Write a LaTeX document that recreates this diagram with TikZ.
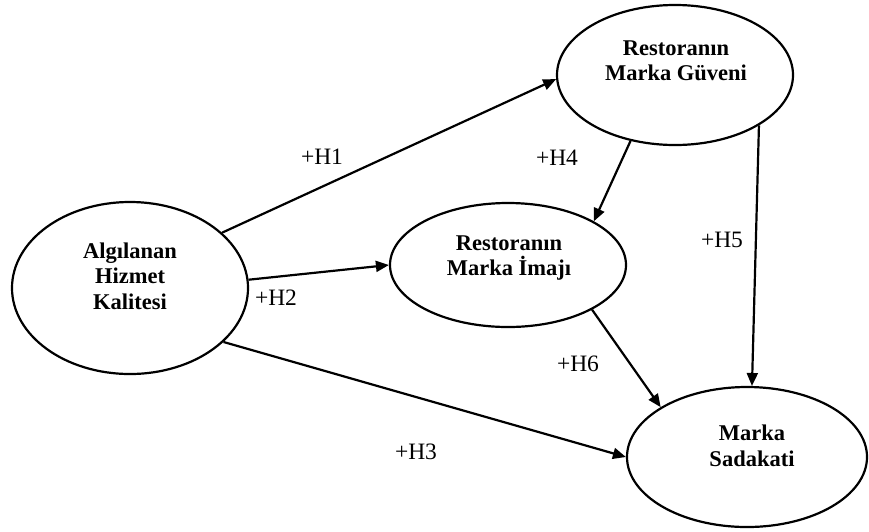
\documentclass[tikz,border=0pt]{standalone}
\usepackage{fontspec}
\setmainfont{Liberation Serif}
\usetikzlibrary{shapes.geometric,arrows.meta}
\begin{document}
\begin{tikzpicture}[x=1pt,y=-1pt,
  blob/.style={draw=black,line width=2.2pt,ellipse,inner sep=0pt},
  btxt/.style={font=\fontsize{22.5}{25.5}\selectfont\bfseries,align=center,inner sep=0pt},
  hlab/.style={font=\fontsize{23.5}{25}\selectfont,inner sep=0pt},
  arr/.style={line width=2.2pt,-{Triangle[length=13pt,width=11pt]}}]
\useasboundingbox (0,0) rectangle (869,531);
\node[blob,minimum width=236pt,minimum height=172pt] (e1) at (130,288) {};
\node[blob,minimum width=236pt,minimum height=140pt] (e2) at (675,75) {};
\node[blob,minimum width=236pt,minimum height=124pt] (e3) at (508,265) {};
\node[blob,minimum width=240pt,minimum height=140pt] (e4) at (747,457) {};
\node[btxt] (t1) at (130,276) {Algılanan\\Hizmet\\Kalitesi};
\node[btxt] (t2) at (676,61) {Restoranın\\Marka Güveni};
\node[btxt] (t3) at (509,258) {Restoranın\\Marka İmajı};
\node[btxt] (t4) at (752,446) {Marka\\Sadakati};
\draw[arr] (e1.31) -- (e2.182);
\draw[arr] (e1.4) -- (e3.west);
\draw[arr] (e1.-30) -- (e4.west);
\draw[arr] (e2.236) -- (e3.27);
\draw[arr] (e2.-31) -- (e4.86);
\draw[arr] (e3.-28) -- (e4.150);
\node[hlab] (h1) at (322,157) {+H1};
\node[hlab] (h2) at (276,298) {+H2};
\node[hlab] (h3) at (416,452) {+H3};
\node[hlab] (h4) at (557,158) {+H4};
\node[hlab] (h5) at (722,240) {+H5};
\node[hlab] (h6) at (578,364) {+H6};
\end{tikzpicture}
\end{document}
